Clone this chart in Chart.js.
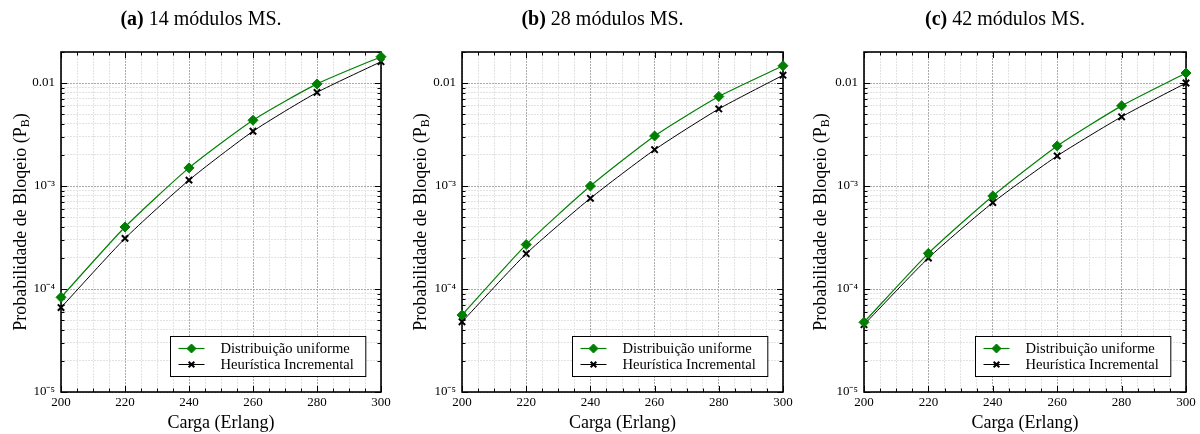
<!DOCTYPE html>
<html>
<head>
<meta charset="utf-8">
<script src="https://cdn.jsdelivr.net/npm/chart.js@4.4.1/dist/chart.umd.min.js"></script>
<style>
  body { margin: 0; background: #fff; }
  .wrap { position: absolute; top: 0; width: 400px; height: 434px; }
</style>
</head>
<body>
<div class="wrap" style="left:0px"><canvas id="c0" width="400" height="434"></canvas></div>
<div class="wrap" style="left:400px"><canvas id="c1" width="400" height="434"></canvas></div>
<div class="wrap" style="left:800px"><canvas id="c2" width="400" height="434"></canvas></div>
<script>
// data
const carga = [200, 220, 240, 260, 280, 300];
const modulos = [14, 28, 42];
const letras = ['(a)', '(b)', '(c)'];

const uniforme14 = [8.3e-5, 4.0e-4, 1.5e-3, 4.35e-3, 9.8e-3, 0.018];
const heuristica14 = [6.6e-5, 3.1e-4, 1.14e-3, 3.4e-3, 8.1e-3, 0.0161];
const uniforme28 = [5.6e-5, 2.7e-4, 1.0e-3, 3.06e-3, 7.4e-3, 0.0147];
const heuristica28 = [4.8e-5, 2.2e-4, 7.6e-4, 2.25e-3, 5.6e-3, 0.0119];
const uniforme42 = [4.75e-5, 2.22e-4, 8.0e-4, 2.45e-3, 6.0e-3, 0.0125];
const heuristica42 = [4.5e-5, 2.0e-4, 6.9e-4, 1.96e-3, 4.7e-3, 0.010];

const yMajorTicks = [1e-5, 1e-4, 1e-3, 1e-2];
const yMajorLabels = ['10\u207B\u2075', '10\u207B\u2074', '10\u207B\u00B3', '0.01'];
const xTickLabels = [200, 220, 240, 260, 280, 300];

const serieNomes = ['Distribuição uniforme', 'Heurística Incremental'];
const xTitulo = 'Carga (Erlang)';

const uniforme = [uniforme14, uniforme28, uniforme42];
const heuristica = [heuristica14, heuristica28, heuristica42];

// layout per panel
const yAxisWidth = [61, 62, 64];
const padRight = [19, 17, 14];

const FONT = "'Liberation Serif', 'Times New Roman', serif";
Chart.defaults.font.family = FONT;
Chart.defaults.color = '#000';

function isMajorY(v) {
    return yMajorTicks.some(t => Math.abs(v - t) / t < 1e-6);
}

function majorLabelY(v) {
    const i = yMajorTicks.findIndex(t => Math.abs(v - t) / t < 1e-6);
    return i >= 0 ? yMajorLabels[i] : '';
}

const extras = {
    id: 'extras',
    beforeDatasetsDraw(chart) {
        const ctx = chart.ctx;
        const a = chart.chartArea;
        const xs = chart.scales.x;
        const ys = chart.scales.y;
        ctx.save();
        ctx.strokeStyle = '#000';
        ctx.lineWidth = 1;
        // inward tick marks
        ctx.beginPath();
        for (let v = 200; v <= 300; v += 5) {
            const px = Math.round(xs.getPixelForValue(v)) + 0.5;
            const len = v % 20 === 0 ? 6 : 3.5;
            ctx.moveTo(px, a.bottom); ctx.lineTo(px, a.bottom - len);
            ctx.moveTo(px, a.top); ctx.lineTo(px, a.top + len);
        }
        ys.ticks.forEach(t => {
            const py = Math.round(ys.getPixelForValue(t.value)) + 0.5;
            const len = isMajorY(t.value) ? 6 : 3.5;
            ctx.moveTo(a.left, py); ctx.lineTo(a.left + len, py);
            ctx.moveTo(a.right, py); ctx.lineTo(a.right - len, py);
        });
        ctx.stroke();
        // frame
        ctx.lineWidth = 1.6;
        ctx.strokeRect(a.left, a.top, a.right - a.left, a.bottom - a.top);
        ctx.restore();
    },
    afterDraw(chart) {
        const ctx = chart.ctx;
        const a = chart.chartArea;
        const i = chart.options.plugins.extras.panel;
        ctx.save();

        // panel title, bold letter + normal text
        const t1 = letras[i];
        const t2 = ' ' + modulos[i] + ' módulos MS.';
        ctx.fillStyle = '#000';
        ctx.textBaseline = 'alphabetic';
        ctx.font = 'bold 20px ' + FONT;
        const w1 = ctx.measureText(t1).width;
        ctx.font = '20px ' + FONT;
        const w2 = ctx.measureText(t2).width;
        const cx = (a.left + a.right) / 2 - 20;
        let x0 = cx - (w1 + w2) / 2;
        ctx.font = 'bold 20px ' + FONT;
        ctx.fillText(t1, x0, 25);
        ctx.font = '20px ' + FONT;
        ctx.fillText(t2, x0 + w1, 25);

        // x axis title
        ctx.font = '18px ' + FONT;
        ctx.textAlign = 'center';
        ctx.fillText(xTitulo, (a.left + a.right) / 2, 428);
        ctx.textAlign = 'left';

        // y axis title with subscript
        const s1 = 'Probabilidade de Bloqeio (P';
        const s2 = 'B';
        const s3 = ')';
        ctx.font = '18px ' + FONT;
        const m1 = ctx.measureText(s1).width;
        const m3 = ctx.measureText(s3).width;
        ctx.font = '12px ' + FONT;
        const m2 = ctx.measureText(s2).width;
        const total = m1 + m2 + m3;
        ctx.translate(26, (a.top + a.bottom) / 2);
        ctx.rotate(-Math.PI / 2);
        let sx = -total / 2;
        ctx.font = '18px ' + FONT;
        ctx.fillText(s1, sx, 0);
        ctx.font = '12px ' + FONT;
        ctx.fillText(s2, sx + m1, 3);
        ctx.font = '18px ' + FONT;
        ctx.fillText(s3, sx + m1 + m2, 0);
        ctx.setTransform(1, 0, 0, 1, 0, 0);

        // legend box inside plot, bottom right
        ctx.font = '14.6px ' + FONT;
        const tw = Math.max(...serieNomes.map(s => ctx.measureText(s).width));
        const bw = 50 + tw + 12;
        const bh = 40;
        const bx = Math.round(a.right - 16 - bw) + 0.5;
        const by = Math.round(a.bottom - 16 - bh) + 0.5;
        ctx.fillStyle = '#fff';
        ctx.fillRect(bx, by, bw, bh);
        ctx.strokeStyle = '#000';
        ctx.lineWidth = 1;
        ctx.strokeRect(bx, by, bw, bh);
        ctx.textBaseline = 'middle';
        chart.data.datasets.forEach((ds, k) => {
            const ry = by + 12 + k * 16;
            ctx.strokeStyle = ds.borderColor;
            ctx.lineWidth = ds.borderWidth;
            ctx.beginPath();
            ctx.moveTo(bx + 8, ry); ctx.lineTo(bx + 34, ry);
            ctx.stroke();
            ctx.fillStyle = ds.pointBackgroundColor;
            ctx.strokeStyle = ds.pointBorderColor;
            ctx.lineWidth = ds.pointBorderWidth;
            Chart.helpers.drawPoint(ctx, {
                pointStyle: ds.pointStyle, radius: ds.pointRadius - 0.5,
                rotation: 0, borderWidth: ds.pointBorderWidth
            }, bx + 21, ry);
            ctx.fillStyle = '#000';
            ctx.fillText(ds.label, bx + 50, ry + 0.5);
        });
        ctx.restore();
    }
};

for (let i = 0; i < 3; i++) {
    new Chart(document.getElementById('c' + i), {
        type: 'line',
        data: {
            datasets: [
                {
                    label: serieNomes[0],
                    data: carga.map((c, k) => ({ x: c, y: uniforme[i][k] })),
                    borderColor: '#008000',
                    backgroundColor: '#008000',
                    borderWidth: 1.2,
                    pointStyle: 'rectRot',
                    pointRadius: 5,
                    pointBackgroundColor: '#008000',
                    pointBorderColor: '#008000',
                    pointBorderWidth: 1,
                    tension: 0.2,
                    clip: false
                },
                {
                    label: serieNomes[1],
                    data: carga.map((c, k) => ({ x: c, y: heuristica[i][k] })),
                    borderColor: '#000',
                    backgroundColor: '#000',
                    borderWidth: 1,
                    pointStyle: 'crossRot',
                    pointRadius: 4.5,
                    pointBackgroundColor: '#000',
                    pointBorderColor: '#000',
                    pointBorderWidth: 2,
                    tension: 0.2,
                    clip: false
                }
            ]
        },
        options: {
            responsive: false,
            animation: false,
            events: [],
            layout: { padding: { top: 52, right: padRight[i], left: 0, bottom: 0 } },
            plugins: {
                legend: { display: false },
                tooltip: { enabled: false },
                extras: { panel: i }
            },
            scales: {
                x: {
                    type: 'linear',
                    min: 200,
                    max: 300,
                    afterFit: s => { s.height = 42; },
                    ticks: {
                        stepSize: 5,
                        autoSkip: false,
                        maxRotation: 0,
                        padding: 3,
                        font: { size: 13 },
                        callback: v => xTickLabels.includes(v) ? String(v) : ''
                    },
                    grid: {
                        drawTicks: false,
                        color: c => (c.tick && c.tick.value % 20 === 0) ? '#ababab' : '#e2e2e2'
                    },
                    border: { display: false, dash: [2, 1] }
                },
                y: {
                    type: 'logarithmic',
                    min: 1e-5,
                    max: 0.02,
                    afterFit: s => { s.width = yAxisWidth[i]; },
                    afterBuildTicks: s => {
                        const t = [];
                        for (let e = -5; e <= -2; e++) {
                            for (let m = 1; m <= 9; m++) {
                                const v = m * Math.pow(10, e);
                                if (v <= 0.02 + 1e-12) t.push({ value: v });
                            }
                        }
                        s.ticks = t;
                    },
                    ticks: {
                        autoSkip: false,
                        padding: 6,
                        font: { size: 13 },
                        callback: v => majorLabelY(v)
                    },
                    grid: {
                        drawTicks: false,
                        color: c => (c.tick && isMajorY(c.tick.value)) ? '#ababab' : '#e2e2e2'
                    },
                    border: { display: false, dash: [2, 1] }
                }
            }
        },
        plugins: [extras]
    });
}
</script>
</body>
</html>
